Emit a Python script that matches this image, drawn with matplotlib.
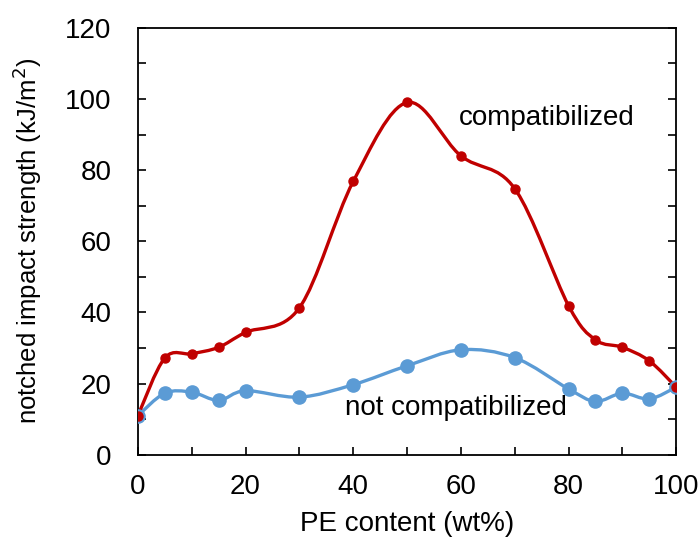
import matplotlib.pyplot as plt
import numpy as np
from matplotlib.path import Path
from matplotlib.patches import PathPatch
from matplotlib.ticker import MultipleLocator

plt.rcParams['font.family'] = ['Liberation Sans', 'DejaVu Sans']

pe_content = [0, 5, 10, 15, 20, 30, 40, 50, 60, 70, 80, 85, 90, 95, 100]
compatibilized = [11, 27.2, 28.4, 30.2, 34.4, 41.3, 76.8, 99.0, 84.0, 74.8, 41.9, 32.3, 30.2, 26.4, 19.0]
not_compatibilized = [11, 17.3, 17.6, 15.3, 18.0, 16.2, 19.7, 25.0, 29.5, 27.3, 18.5, 15.0, 17.3, 15.7, 19.0]

RED = '#C00000'
BLUE = '#5B9BD5'


def smooth_path(x, y):
    # Excel-style smoothed line: cubic Bezier segments through every point
    pts = np.column_stack([x, y]).astype(float)
    n = len(pts)
    verts = [pts[0]]
    codes = [Path.MOVETO]
    for i in range(n - 1):
        p_prev = pts[i - 1] if i > 0 else pts[i]
        p_next2 = pts[i + 2] if i + 2 < n else pts[i + 1]
        c1 = pts[i] + (pts[i + 1] - p_prev) / 6
        c2 = pts[i + 1] - (p_next2 - pts[i]) / 6
        verts += [c1, c2, pts[i + 1]]
        codes += [Path.CURVE4] * 3
    return Path(verts, codes)


fig = plt.figure(figsize=(7, 5.44), dpi=100)
ax = fig.add_axes([0.197, 0.164, 0.769, 0.785])

for ys, col, ms in [(not_compatibilized, BLUE, 9.5), (compatibilized, RED, 6.5)]:
    ax.add_patch(PathPatch(smooth_path(pe_content, ys), fill=False,
                           edgecolor=col, lw=2.4, zorder=2))
    ax.plot(pe_content, ys, 'o', color=col, ms=ms, zorder=3)

ax.set_xlim(0, 100)
ax.set_ylim(0, 120)
ax.xaxis.set_major_locator(MultipleLocator(20))
ax.xaxis.set_minor_locator(MultipleLocator(10))
ax.yaxis.set_major_locator(MultipleLocator(20))
ax.yaxis.set_minor_locator(MultipleLocator(10))
ax.tick_params(which='both', direction='in', length=6, width=1.2,
               left=True, right=True, bottom=True, top=False)
ax.tick_params(which='major', labelsize=20)
ax.tick_params(axis='x', which='major', pad=14)
ax.tick_params(axis='y', which='major', pad=19)
for s in ax.spines.values():
    s.set_linewidth(1.3)

ax.set_xlabel('PE content (wt%)', fontsize=20, labelpad=8)
ax.set_ylabel('notched impact strength (kJ/m$^2$)', fontsize=18.5, labelpad=15)

ax.text(76, 94.7, 'compatibilized', fontsize=20, ha='center', va='center')
ax.text(59, 13.2, 'not compatibilized', fontsize=20, ha='center', va='center')

fig.savefig('out.png', dpi=100)
